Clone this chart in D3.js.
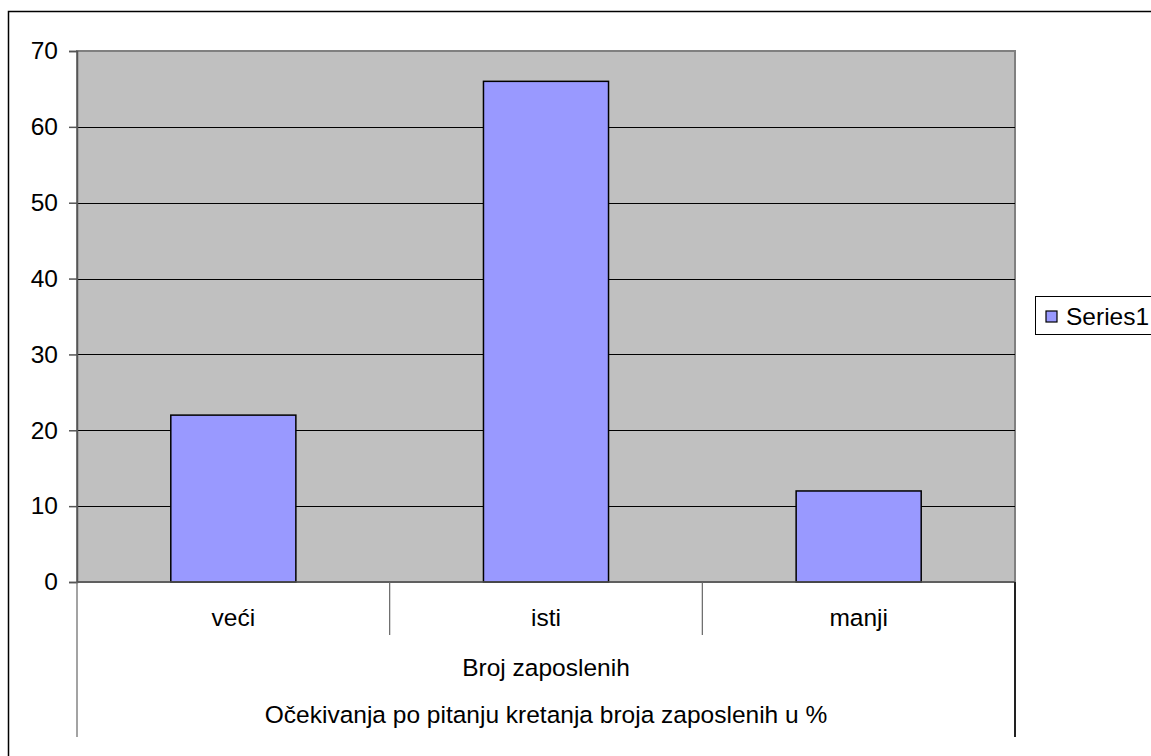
<!DOCTYPE html>
<html>
<head>
<meta charset="utf-8">
<script src="https://cdn.jsdelivr.net/npm/d3@7"></script>
<style>
  body { margin: 0; background: #fff; }
  svg { display: block; font-family: "Liberation Sans", Arial, sans-serif; }
</style>
</head>
<body>
<svg id="chart" width="1151" height="756"></svg>
<script>
// data
const categories = ['veći', 'isti', 'manji'];
const values = [22, 66, 12];
const yTicks = [0, 10, 20, 30, 40, 50, 60, 70];
const seriesName = 'Series1';
const groupLabel = 'Broj zaposlenih';
const titleLabel = 'Očekivanja po pitanju kretanja broja zaposlenih u %';

const plot = { left: 77, top: 51, right: 1015, bottom: 582 };
const fontSize = 24.5;

const svg = d3.select('#chart');

// outer chart border (runs past the right/bottom edge)
svg.append('rect')
  .attr('x', 8.5).attr('y', 11.5)
  .attr('width', 1200).attr('height', 800)
  .attr('fill', '#fff')
  .attr('stroke', '#000')
  .attr('stroke-width', 1.5);

const x = d3.scaleBand()
  .domain(categories)
  .range([plot.left, plot.right])
  .paddingInner(0.6)
  .paddingOuter(0.3);

const y = d3.scaleLinear()
  .domain([0, 70])
  .range([plot.bottom, plot.top]);

// plot area
svg.append('rect')
  .attr('x', plot.left).attr('y', plot.top)
  .attr('width', plot.right - plot.left)
  .attr('height', plot.bottom - plot.top)
  .attr('fill', '#c0c0c0')
  .attr('stroke', '#808080')
  .attr('stroke-width', 2);

// gridlines
svg.append('g')
  .selectAll('line')
  .data(yTicks.slice(1, -1))
  .enter()
  .append('line')
  .attr('x1', plot.left).attr('x2', plot.right)
  .attr('y1', d => Math.round(y(d)) + 0.5)
  .attr('y2', d => Math.round(y(d)) + 0.5)
  .attr('stroke', '#000')
  .attr('stroke-width', 1);

// bars
svg.append('g')
  .selectAll('rect')
  .data(values)
  .enter()
  .append('rect')
  .attr('x', (d, i) => x(categories[i]))
  .attr('y', d => y(d))
  .attr('width', x.bandwidth())
  .attr('height', d => plot.bottom - y(d))
  .attr('fill', '#9999ff')
  .attr('stroke', '#000')
  .attr('stroke-width', 1.5);

// y axis
const yAxis = svg.append('g')
  .attr('transform', `translate(${plot.left},0)`)
  .call(d3.axisLeft(y).tickValues(yTicks).tickSize(8).tickPadding(11).tickFormat(d3.format('d')));
yAxis.select('.domain').attr('stroke', '#555').attr('stroke-width', 1.5);
yAxis.selectAll('.tick line').attr('stroke', '#555').attr('stroke-width', 1.5);
yAxis.selectAll('.tick text')
  .attr('font-size', fontSize)
  .attr('font-family', '"Liberation Sans", Arial, sans-serif')
  .attr('fill', '#000');

// category axis (multi-level)
const step = x.step();
const cat = svg.append('g');
cat.append('line')
  .attr('x1', plot.left).attr('x2', plot.right)
  .attr('y1', plot.bottom).attr('y2', plot.bottom)
  .attr('stroke', '#555').attr('stroke-width', 1.5);

const bounds = d3.range(categories.length + 1).map(i => plot.left + i * step);
cat.selectAll('line.div')
  .data(bounds)
  .enter()
  .append('line')
  .attr('class', 'div')
  .attr('x1', d => d).attr('x2', d => d)
  .attr('y1', plot.bottom)
  .attr('y2', (d, i) => (i === 0 || i === categories.length) ? 737 : 635)
  .attr('stroke', (d, i) => i === categories.length ? '#222' : '#666')
  .attr('stroke-width', (d, i) => i === categories.length ? 2 : 1.2);

cat.selectAll('text.cat')
  .data(categories)
  .enter()
  .append('text')
  .attr('class', 'cat')
  .attr('x', d => x(d) + x.bandwidth() / 2)
  .attr('y', 626)
  .attr('text-anchor', 'middle')
  .attr('font-size', fontSize)
  .text(d => d);

const mid = (plot.left + plot.right) / 2;
cat.append('text')
  .attr('x', mid).attr('y', 676)
  .attr('text-anchor', 'middle')
  .attr('font-size', fontSize)
  .text(groupLabel);

cat.append('text')
  .attr('x', mid).attr('y', 723)
  .attr('text-anchor', 'middle')
  .attr('font-size', fontSize)
  .text(titleLabel);

// legend
const legend = svg.append('g');
legend.append('rect')
  .attr('x', 1035.5).attr('y', 296.5)
  .attr('width', 200).attr('height', 38)
  .attr('fill', '#fff')
  .attr('stroke', '#000')
  .attr('stroke-width', 1);
legend.append('rect')
  .attr('x', 1046).attr('y', 311)
  .attr('width', 11).attr('height', 11)
  .attr('fill', '#9999ff')
  .attr('stroke', '#000')
  .attr('stroke-width', 1.2);
legend.append('text')
  .attr('x', 1066).attr('y', 325)
  .attr('font-size', fontSize)
  .text(seriesName);
</script>
</body>
</html>
